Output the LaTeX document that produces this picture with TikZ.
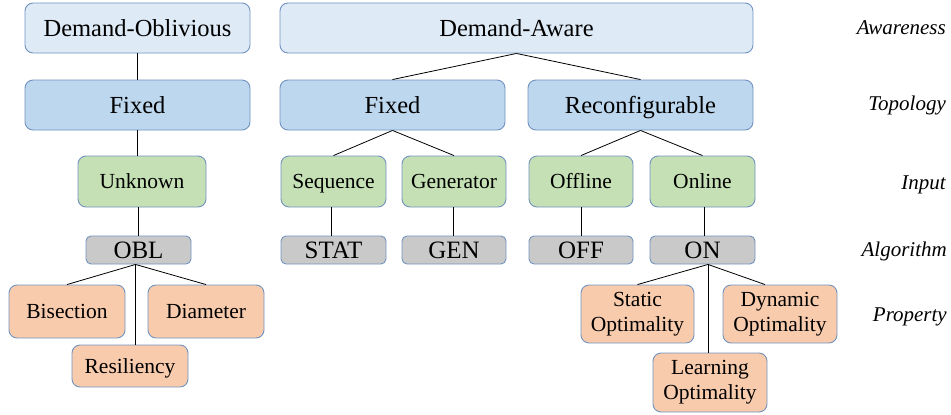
\documentclass[tikz,border=0pt]{standalone}
\usepackage{fontspec}
\setmainfont{Liberation Serif}
\usetikzlibrary{calc}
\definecolor{bordc}{HTML}{7293C0}
\definecolor{topc}{HTML}{DEEAF6}
\definecolor{topoc}{HTML}{BDD7EE}
\definecolor{inc}{HTML}{C5E0B4}
\definecolor{algc}{HTML}{C9C9C9}
\definecolor{propc}{HTML}{F8CBAD}
\tikzset{
  box/.style={draw=bordc, line width=0.9pt, rounded corners=8pt, inner sep=0pt, align=center},
  bigline/.style={text height=18.4pt, text depth=2.2pt},
  smallline/.style={text height=16.1pt, text depth=1.9pt},
  aw/.style={box, bigline, fill=topc, font=\fontsize{24.5}{29}\selectfont},
  topo/.style={box, bigline, fill=topoc, font=\fontsize{24.5}{29}\selectfont},
  inp/.style={box, smallline, fill=inc, font=\fontsize{21.5}{25}\selectfont},
  alg/.style={box, text height=18.75pt, text depth=2.25pt, fill=algc, rounded corners=5pt, font=\fontsize{25}{29}\selectfont},
  prop/.style={box, fill=propc, font=\fontsize{21.5}{25}\selectfont},
  lvl/.style={anchor=east, inner sep=0pt, text height=15.75pt, text depth=1.9pt, font=\fontsize{21}{25}\selectfont\itshape},
  conn/.style={draw=black, line width=0.8pt}
}
\begin{document}
\begin{tikzpicture}[x=1pt,y=-1pt]
\useasboundingbox (0,0) rectangle (951,415);
% level 1
\node[aw, minimum width=225pt, minimum height=50pt] (dobl) at (137.5,28) {Demand-Oblivious};
\node[aw, minimum width=473pt, minimum height=50pt] (daware) at (516.5,28) {Demand-Aware};
% level 2
\node[topo, minimum width=225pt, minimum height=50pt] (fixL) at (137.5,105) {Fixed};
\node[topo, minimum width=225pt, minimum height=50pt] (fixM) at (392.5,105) {Fixed};
\node[topo, minimum width=225pt, minimum height=50pt] (reconf) at (640.5,105) {Reconfigurable};
% level 3
\node[inp, minimum width=128pt, minimum height=51pt] (unk) at (142,181.5) {Unknown};
\node[inp, minimum width=105pt, minimum height=51pt] (seq) at (333.5,181.5) {Sequence};
\node[inp, minimum width=104pt, minimum height=51pt] (gen) at (454,181.5) {Generator};
\node[inp, minimum width=104pt, minimum height=51pt] (off) at (581,181.5) {Offline};
\node[inp, minimum width=105pt, minimum height=51pt] (onl) at (702.5,181.5) {Online};
% level 4
\node[alg, minimum width=105pt, minimum height=28pt] (obl) at (138.5,250) {OBL};
\node[alg, minimum width=105pt, minimum height=28pt] (stat) at (333.5,250) {STAT};
\node[alg, minimum width=104pt, minimum height=28pt] (genA) at (454,250) {GEN};
\node[alg, minimum width=104pt, minimum height=28pt] (offA) at (581,250) {OFF};
\node[alg, minimum width=105pt, minimum height=28pt] (onA) at (702.5,250) {ON};
% level 5
\node[prop, smallline, minimum width=116pt, minimum height=53pt] (bis) at (67,311.5) {Bisection};
\node[prop, smallline, minimum width=116pt, minimum height=53pt] (dia) at (206,311.5) {Diameter};
\node[prop, smallline, minimum width=116pt, minimum height=42pt] (res) at (130,366) {Resiliency};
\node[prop, minimum width=113pt, minimum height=58pt] (sopt) at (637.5,314) {Static\\Optimality};
\node[prop, minimum width=114pt, minimum height=58pt] (dopt) at (780,314) {Dynamic\\Optimality};
\node[prop, minimum width=114pt, minimum height=59pt] (lopt) at (710,382.5) {Learning\\Optimality};
% level labels
\node[lvl] (lAw) at (946,28) {Awareness};
\node[lvl] (lTo) at (946,104) {Topology};
\node[lvl] (lIn) at (946,183) {Input};
\node[lvl] (lAl) at (947,250) {Algorithm};
\node[lvl] (lPr) at (947,315) {Property};
% connectors
\draw[conn] (dobl.south) -- (fixL.north);
\draw[conn] (daware.south) -- (fixM.north);
\draw[conn] (daware.south) -- (reconf.north);
\draw[conn] (fixL.south) -- (fixL.south |- unk.north);
\draw[conn] (obl.north) -- (obl.north |- unk.south);
\draw[conn] (fixM.south) -- (seq.north);
\draw[conn] (fixM.south) -- (gen.north);
\draw[conn] (reconf.south) -- (off.north);
\draw[conn] (reconf.south) -- (onl.north);
\draw[conn] ($(seq.south)+(-2,0)$) -- ($(stat.north)+(-2,0)$);
\draw[conn] ($(gen.south)+(-1,0)$) -- ($(genA.north)+(-1,0)$);
\draw[conn] (off.south) -- (offA.north);
\draw[conn] ($(onl.south)+(1.5,0)$) -- ($(onA.north)+(1.5,0)$);
\coordinate (oblb) at ($(obl.south)+(-3,0)$);
\draw[conn] (oblb) -- (bis.north);
\draw[conn] (oblb) -- (dia.north);
\draw[conn] (oblb) -- (oblb |- res.north);
\coordinate (onb) at ($(onA.south)+(5.5,0)$);
\draw[conn] (onb) -- (sopt.north);
\draw[conn] (onb) -- ($(dopt.north)+(-15,0)$);
\draw[conn] (onb) -- (onb |- lopt.north);
\end{tikzpicture}
\end{document}
